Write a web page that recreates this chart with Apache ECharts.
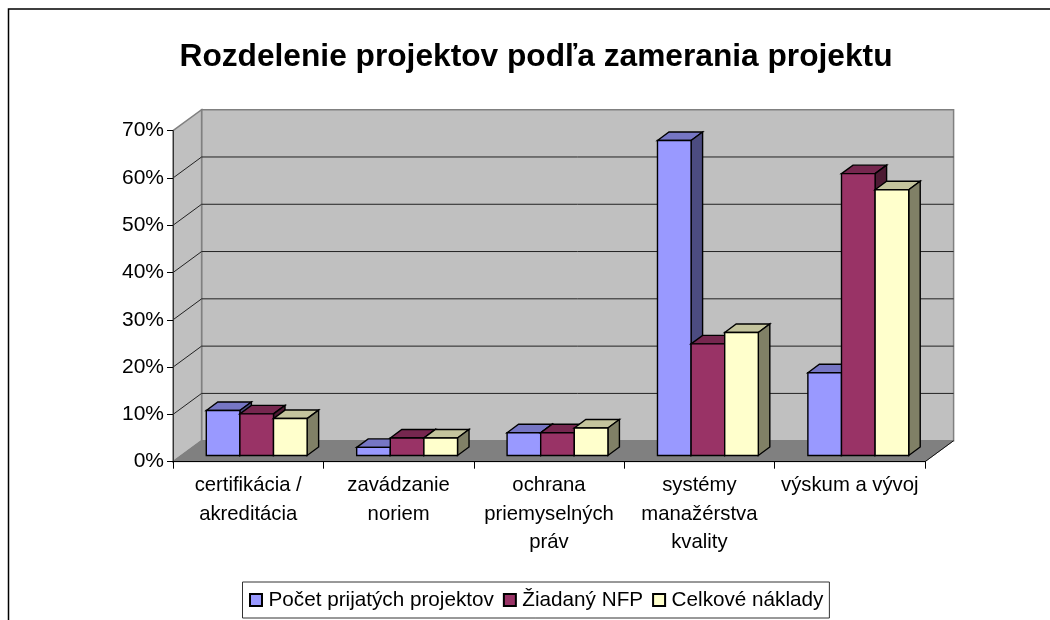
<!DOCTYPE html>
<html>
<head>
<meta charset="utf-8">
<style>
    html, body { margin: 0; padding: 0; background: #fff; overflow: hidden; }
    #main { width: 1050px; height: 620px; }
</style>
<script src="https://cdn.jsdelivr.net/npm/echarts@6/dist/echarts.min.js"></script>
</head>
<body>
<div id="main"></div>
<script>
const categories = ['certifikácia /\nakreditácia', 'zavádzanie\nnoriem', 'ochrana\npriemyselných\npráv', 'systémy\nmanažérstva\nkvality', 'výskum a vývoj'];
const prijate = [9.5, 1.7, 4.8, 66.6, 17.5];
const ziadany = [8.8, 3.7, 4.8, 23.6, 59.6];
const naklady = [7.8, 3.7, 5.8, 26, 56.2];
const yTicks = [0, 10, 20, 30, 40, 50, 60, 70];

const FONT = '"Liberation Sans", Arial, sans-serif';
// posun zadnej steny a hlbka stlpca (3D pohlad v pixeloch)
const WALL = [28.6, -21];
const BAR_DEPTH = [11.5, -8.5];
const BAR_SHIFT = [8.5, -6.25];
const BAR_W = 0.2235;

function poly(points, fill, stroke, lw) {
    return {
        type: 'polygon',
        shape: { points: points },
        style: { fill: fill, stroke: stroke, lineWidth: lw }
    };
}

// steny a podlaha
function renderWalls(params, api) {
    const c = params.coordSys;
    const l = c.x, r = c.x + c.width, t = c.y, b = c.y + c.height;
    const dx = WALL[0], dy = WALL[1];
    return {
        type: 'group',
        children: [
            poly([[l + dx, t + dy], [r + dx, t + dy], [r + dx, b + dy], [l + dx, b + dy]], '#c0c0c0', '#808080', 1.5),
            poly([[l, t], [l + dx, t + dy], [l + dx, b + dy], [l, b]], '#c0c0c0', '#808080', 1.5),
            poly([[l, b], [l + dx, b + dy], [r + dx, b + dy], [r, b]], '#808080', '#808080', 1)
        ]
    };
}

// mriezka na zadnej a bocnej stene
function renderGrid(params, api) {
    const c = params.coordSys;
    const y = api.coord([0, api.value(1)])[1];
    const l = c.x, r = c.x + c.width;
    if (api.value(1) === 0) {
        return { type: 'polyline', shape: { points: [[r, y], [r + WALL[0], y + WALL[1]]] }, style: { fill: 'none', stroke: '#111', lineWidth: 1 } };
    }
    if (api.value(1) === 70) {
        return { type: 'group', children: [] };
    }
    return {
        type: 'polyline',
        shape: { points: [[l, y], [l + WALL[0], y + WALL[1]], [r + WALL[0], y + WALL[1]]] },
        style: { fill: 'none', stroke: '#222', lineWidth: 1 }
    };
}

function bar3d(index, front, top, side) {
    return function (params, api) {
        const pt = api.coord([api.value(0), api.value(1)]);
        const zero = api.coord([api.value(0), 0]);
        const catW = api.size([1, 0])[0];
        const w = catW * BAR_W;
        const x0 = pt[0] - 1.5 * w + index * w + BAR_SHIFT[0];
        const x1 = x0 + w;
        const yT = pt[1] + BAR_SHIFT[1];
        const yB = zero[1] + BAR_SHIFT[1];
        const dx = BAR_DEPTH[0], dy = BAR_DEPTH[1];
        return {
            type: 'group',
            children: [
                poly([[x0, yT], [x0 + dx, yT + dy], [x1 + dx, yT + dy], [x1, yT]], top, '#000', 1.4),
                poly([[x1, yT], [x1 + dx, yT + dy], [x1 + dx, yB + dy], [x1, yB]], side, '#000', 1.4),
                poly([[x0, yT], [x1, yT], [x1, yB], [x0, yB]], front, '#000', 1.4)
            ]
        };
    };
}

function barSeries(name, values, index, front, top, side) {
    return {
        name: name,
        type: 'custom',
        coordinateSystem: 'cartesian2d',
        clip: false,
        silent: true,
        z: 3 + index,
        itemStyle: { color: front, borderColor: '#000', borderWidth: 1.4 },
        encode: { x: 0, y: 1 },
        data: values.map(function (v, i) { return [i, v]; }),
        renderItem: bar3d(index, front, top, side)
    };
}

let myChart = echarts.init(document.getElementById('main'), null, { renderer: 'canvas' });

myChart.setOption({
    animation: false,
    backgroundColor: '#fff',
    textStyle: { fontFamily: FONT },
    title: {
        text: 'Rozdelenie projektov podľa zamerania projektu',
        left: 531,
        top: 36,
        textAlign: 'center',
        textStyle: { fontFamily: FONT, fontSize: 31.7, fontWeight: 'bold', color: '#000' }
    },
    graphic: [{
        type: 'polyline',
        silent: true,
        shape: { points: [[8.5, 640], [8.5, 9], [1060, 9]] },
        style: { fill: 'none', stroke: '#000', lineWidth: 1.5 }
    }],
    legend: {
        left: 242.5,
        top: 582,
        padding: [7.5, 6, 7.5, 6.5],
        itemGap: 9,
        itemWidth: 12,
        itemHeight: 12,
        icon: 'rect',
        borderColor: '#333',
        borderWidth: 1,
        backgroundColor: '#fff',
        data: ['Počet prijatých projektov', 'Žiadaný NFP', 'Celkové náklady'],
        textStyle: { fontFamily: FONT, fontSize: 20.7, color: '#000', padding: [0, 0, 0, 1.5] }
    },
    grid: { left: 173, top: 130.7, width: 752, height: 331 },
    xAxis: {
        type: 'category',
        data: categories,
        z: 6,
        axisLine: { lineStyle: { color: '#000', width: 1 } },
        axisTick: { show: true, length: 7, alignWithLabel: false, lineStyle: { color: '#000' } },
        axisLabel: { color: '#000', fontFamily: FONT, fontSize: 20.3, lineHeight: 28.2, margin: 10, interval: 0 }
    },
    yAxis: {
        type: 'value',
        min: 0,
        max: 70,
        interval: 10,
        z: 6,
        splitLine: { show: false },
        axisLine: { show: true, lineStyle: { color: '#333', width: 1 } },
        axisTick: { show: true, length: 6, lineStyle: { color: '#000' } },
        axisLabel: { color: '#000', fontFamily: FONT, fontSize: 21, margin: 9, formatter: '{value}%' }
    },
    series: [
        {
            type: 'custom', coordinateSystem: 'cartesian2d', clip: false, silent: true, z: 1,
            data: [[0, 0]], encode: { x: 0, y: 1 }, renderItem: renderWalls
        },
        {
            type: 'custom', coordinateSystem: 'cartesian2d', clip: false, silent: true, z: 2,
            data: yTicks.map(function (v) { return [0, v]; }), encode: { x: 0, y: 1 }, renderItem: renderGrid
        },
        barSeries('Počet prijatých projektov', prijate, 0, '#9999ff', '#7676c4', '#4c4c80'),
        barSeries('Žiadaný NFP', ziadany, 1, '#993366', '#76274f', '#4d1a33'),
        barSeries('Celkové náklady', naklady, 2, '#ffffcc', '#c4c49d', '#808066')
    ]
});
</script>
</body>
</html>
